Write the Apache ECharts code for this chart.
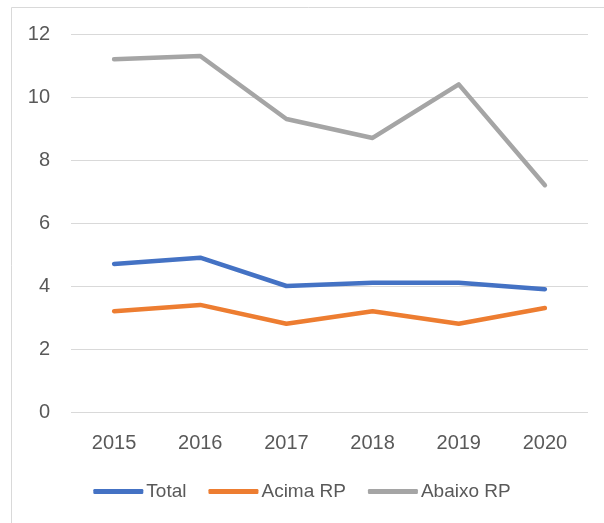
<!DOCTYPE html>
<html>
<head>
<meta charset="utf-8">
<script src="https://cdn.jsdelivr.net/npm/echarts@6/dist/echarts.min.js"></script>
<style>
  html, body { margin: 0; padding: 0; background: #ffffff; }
  #chart { width: 604px; height: 523px; }
</style>
</head>
<body>
<div id="chart"></div>
<script>
// Years on the category axis
const years = ['2015', '2016', '2017', '2018', '2019', '2020'];

// Series values
const total = [4.7, 4.9, 4.0, 4.1, 4.1, 3.9];
const acimaRP = [3.2, 3.4, 2.8, 3.2, 2.8, 3.3];
const abaixoRP = [11.2, 11.3, 9.3, 8.7, 10.4, 7.2];

// Value axis range
const yMin = 0;
const yMax = 12;
const yStep = 2;

const textColor = '#595959';
const fontFamily = '"Liberation Sans", "Open Sans", sans-serif';

const chart = echarts.init(document.getElementById('chart'), null, { renderer: 'canvas' });

function lineSeries(name, data, color) {
  return {
    name: name,
    type: 'line',
    data: data,
    symbol: 'none',
    smooth: false,
    lineStyle: { color: color, width: 4.5, cap: 'round', join: 'round' },
    itemStyle: { color: color }
  };
}

chart.setOption({
  animation: false,
  backgroundColor: '#ffffff',
  textStyle: { fontFamily: fontFamily },
  // thin frame around the chart area (right and bottom edges run off the canvas)
  graphic: [{
    type: 'rect',
    shape: { x: 11.5, y: 7.5, width: 600, height: 530 },
    style: { fill: 'none', stroke: '#d9d9d9', lineWidth: 1 },
    silent: true
  }],
  grid: { left: 71, right: 16, top: 34, bottom: 111, containLabel: false },
  xAxis: {
    type: 'category',
    data: years,
    boundaryGap: true,
    axisLine: { show: false },
    axisTick: { show: false },
    axisLabel: { color: textColor, fontSize: 20, margin: 21, fontFamily: fontFamily }
  },
  yAxis: {
    type: 'value',
    min: yMin,
    max: yMax,
    interval: yStep,
    axisLine: { show: false },
    axisTick: { show: false },
    axisLabel: { color: textColor, fontSize: 20, margin: 21, fontFamily: fontFamily },
    splitLine: { lineStyle: { color: '#d9d9d9', width: 1.2 } }
  },
  legend: {
    bottom: 17,
    left: 'center',
    itemWidth: 50,
    itemHeight: 5,
    itemGap: 22,
    icon: 'roundRect',
    textStyle: { color: textColor, fontSize: 19, padding: [0, 0, 0, -2], fontFamily: fontFamily },
    data: ['Total', 'Acima RP', 'Abaixo RP']
  },
  series: [
    lineSeries('Total', total, '#4472c4'),
    lineSeries('Acima RP', acimaRP, '#ed7d31'),
    lineSeries('Abaixo RP', abaixoRP, '#a5a5a5')
  ]
});
</script>
</body>
</html>
